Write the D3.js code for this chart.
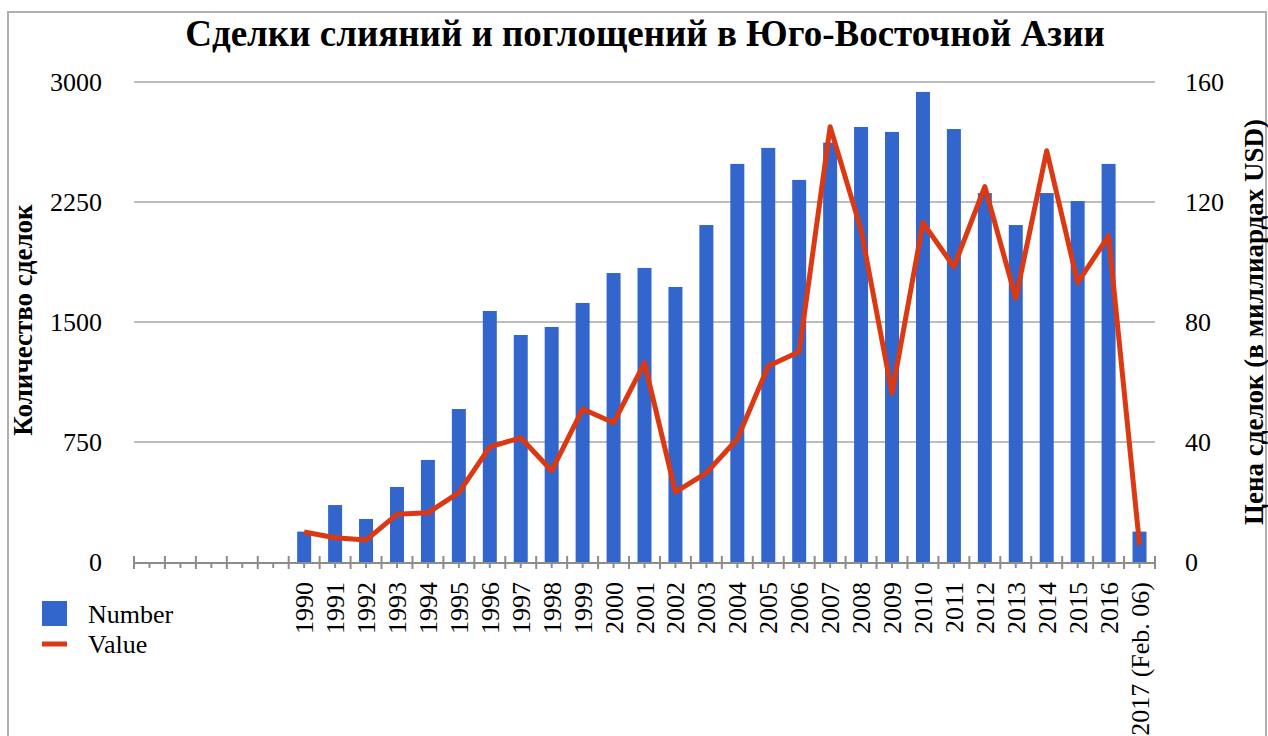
<!DOCTYPE html>
<html lang="ru">
<head>
  <meta charset="UTF-8">
  <title>Сделки слияний и поглощений в Юго-Восточной Азии</title>
  <style>
    body { margin: 0; background: #fff; }
    svg { display: block; }
    text { font-family: "Liberation Serif", "Times New Roman", serif; fill: #000; }
  </style>
</head>
<body>
  <svg id="chart" width="1268" height="736"></svg>

  <script src="https://d3js.org/d3.v7.min.js"></script>
  <script>
    // categories: five empty slots before 1990, as on the original axis
    const categories = ["", "", "", "", "",
      "1990", "1991", "1992", "1993", "1994", "1995", "1996", "1997", "1998", "1999",
      "2000", "2001", "2002", "2003", "2004", "2005", "2006", "2007", "2008", "2009",
      "2010", "2011", "2012", "2013", "2014", "2015", "2016", "2017 (Feb. 06)"];

    // number of deals (left axis)
    const numberValues = [null, null, null, null, null,
      190, 356, 269, 469, 638, 956, 1569, 1419, 1469, 1619,
      1806, 1838, 1719, 2106, 2488, 2588, 2388, 2621, 2719, 2688,
      2938, 2706, 2306, 2106, 2306, 2256, 2488, 190];

    // deal value, billions USD (right axis)
    const valueValues = [null, null, null, null, null,
      10, 8.1, 7.3, 15.9, 16.4, 23.1, 38.4, 41.4, 30.4, 51,
      46.4, 66.4, 23.3, 29.7, 41, 65.3, 70.1, 145.1, 110.7, 56.2,
      113.1, 98.4, 125.1, 87.9, 137.1, 93.1, 108.7, 5.7];

    const leftTicks = [0, 750, 1500, 2250, 3000];
    const rightTicks = [0, 40, 80, 120, 160];

    const title = "Сделки слияний и поглощений в Юго-Восточной Азии";
    const leftTitle = "Количество сделок";
    const rightTitle = "Цена сделок (в миллиардах USD)";
    const legendItems = ["Number", "Value"];

    const barColor = "#3366cc";
    const lineColor = "#dc3912";
    const fs = 26;

    const svg = d3.select("#chart");
    const plot = { left: 134, right: 1155, top: 82, bottom: 562 };

    // page frame
    svg.append("rect")
      .attr("x", 8).attr("y", 12)
      .attr("width", 1258).attr("height", 740)
      .attr("fill", "none")
      .attr("stroke", "#b0b0b0")
      .attr("stroke-width", 2);

    const x = d3.scaleBand()
      .domain(d3.range(categories.length))
      .range([plot.left, plot.right])
      .paddingInner(0)
      .paddingOuter(0);

    const yLeft = d3.scaleLinear().domain([0, 3000]).range([plot.bottom, plot.top]);
    const yRight = d3.scaleLinear().domain([0, 160]).range([plot.bottom, plot.top]);

    // gridlines
    svg.append("g")
      .selectAll("line")
      .data(leftTicks.filter(d => d > 0))
      .join("line")
      .attr("x1", plot.left).attr("x2", plot.right)
      .attr("y1", d => yLeft(d)).attr("y2", d => yLeft(d))
      .attr("stroke", "#bdbdbd")
      .attr("stroke-width", 2);

    // left tick labels
    svg.append("g")
      .selectAll("text")
      .data(leftTicks)
      .join("text")
      .attr("x", 102)
      .attr("y", d => yLeft(d) + 9)
      .attr("text-anchor", "end")
      .attr("font-size", fs)
      .text(d => d);

    // right tick labels
    svg.append("g")
      .selectAll("text")
      .data(rightTicks)
      .join("text")
      .attr("x", 1185)
      .attr("y", d => yRight(d) + 9)
      .attr("text-anchor", "start")
      .attr("font-size", fs)
      .text(d => d);

    // bars
    const barW = 14;
    svg.append("g")
      .selectAll("rect")
      .data(numberValues.map((v, i) => ({ v, i })).filter(d => d.v != null))
      .join("rect")
      .attr("x", d => x(d.i) + x.bandwidth() / 2 - barW / 2)
      .attr("y", d => yLeft(d.v))
      .attr("width", barW)
      .attr("height", d => plot.bottom - yLeft(d.v))
      .attr("fill", barColor);

    // x axis line + ticks
    const axisG = svg.append("g");
    axisG.append("line")
      .attr("x1", plot.left).attr("x2", plot.right + 1)
      .attr("y1", plot.bottom + 1).attr("y2", plot.bottom + 1)
      .attr("stroke", "#8c8c8c").attr("stroke-width", 2);

    const bounds = d3.range(categories.length + 1).map(i => plot.left + i * x.bandwidth());
    axisG.selectAll("line.major")
      .data(bounds)
      .join("line")
      .attr("class", "major")
      .attr("x1", d => d).attr("x2", d => d)
      .attr("y1", plot.bottom - 6).attr("y2", plot.bottom + 7)
      .attr("stroke", "#8c8c8c").attr("stroke-width", 2);

    axisG.selectAll("line.minor")
      .data(d3.range(categories.length))
      .join("line")
      .attr("class", "minor")
      .attr("x1", d => x(d) + x.bandwidth() / 2).attr("x2", d => x(d) + x.bandwidth() / 2)
      .attr("y1", plot.bottom + 1).attr("y2", plot.bottom + 6)
      .attr("stroke", "#8c8c8c").attr("stroke-width", 2);

    // value line
    const line = d3.line()
      .defined(d => d.v != null)
      .x(d => x(d.i) + x.bandwidth() / 2)
      .y(d => yRight(d.v));

    svg.append("path")
      .datum(valueValues.map((v, i) => ({ v, i })))
      .attr("d", line)
      .attr("fill", "none")
      .attr("stroke", lineColor)
      .attr("stroke-width", 5)
      .attr("stroke-linejoin", "round");

    // x labels, rotated
    svg.append("g")
      .selectAll("text")
      .data(categories.map((c, i) => ({ c, i })).filter(d => d.c !== ""))
      .join("text")
      .attr("transform", d => `translate(${x(d.i) + x.bandwidth() / 2 + 9},${plot.bottom + 20}) rotate(-90)`)
      .attr("text-anchor", "end")
      .attr("font-size", fs)
      .text(d => d.c);

    // titles
    svg.append("text")
      .attr("x", 645).attr("y", 46)
      .attr("text-anchor", "middle")
      .attr("font-size", 37)
      .attr("font-weight", "bold")
      .text(title);

    svg.append("text")
      .attr("transform", `translate(32,320) rotate(-90)`)
      .attr("text-anchor", "middle")
      .attr("font-size", 27)
      .attr("font-weight", "bold")
      .text(leftTitle);

    svg.append("text")
      .attr("transform", `translate(1263,322) rotate(-90)`)
      .attr("text-anchor", "middle")
      .attr("font-size", 27)
      .attr("font-weight", "bold")
      .text(rightTitle);

    // legend
    const legend = svg.append("g").attr("transform", "translate(42,601)");
    legend.append("rect")
      .attr("width", 25).attr("height", 25)
      .attr("fill", barColor);
    legend.append("line")
      .attr("x1", 0).attr("x2", 25)
      .attr("y1", 43).attr("y2", 43)
      .attr("stroke", lineColor).attr("stroke-width", 5);
    legend.selectAll("text")
      .data(legendItems)
      .join("text")
      .attr("x", 46)
      .attr("y", (d, i) => 22 + i * 30)
      .attr("font-size", fs)
      .text(d => d);
  </script>
</body>
</html>
